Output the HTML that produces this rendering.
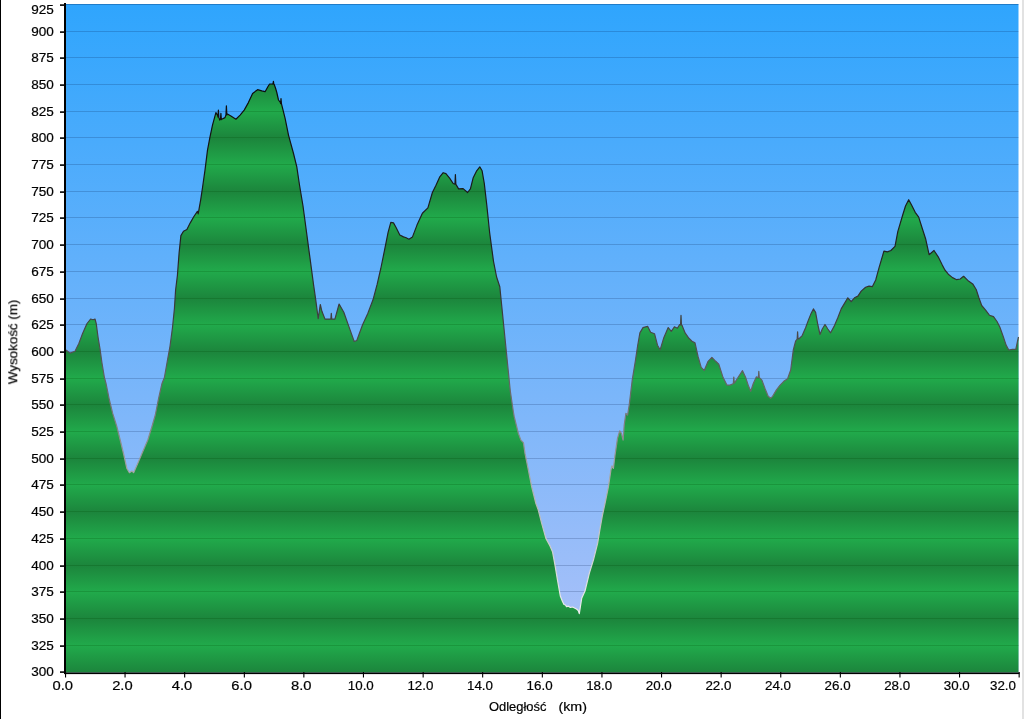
<!DOCTYPE html>
<html><head><meta charset="utf-8"><style>
html,body{margin:0;padding:0;background:#fff;}
body{width:1024px;height:719px;overflow:hidden;position:relative;}
svg{position:absolute;left:0;top:0;}
text{font-family:"Liberation Sans",sans-serif;font-size:12.3px;fill:#000;stroke:#000;stroke-width:0.2px;}
</style></head><body>
<svg width="1024" height="719" viewBox="0 0 1024 719">
<defs>
<linearGradient id="sky" x1="0" y1="4" x2="0" y2="672" gradientUnits="userSpaceOnUse">
<stop offset="0" stop-color="rgb(47,165,253)"/>
<stop offset="1" stop-color="rgb(176,194,248)"/>
</linearGradient>
<linearGradient id="grn" x1="0" y1="378.38" x2="0" y2="405.10" gradientUnits="userSpaceOnUse" spreadMethod="reflect">
<stop offset="0" stop-color="rgb(33,170,75)"/>
<stop offset="1" stop-color="rgb(28,133,60)"/>
</linearGradient>
<linearGradient id="strk" x1="0" y1="4" x2="0" y2="672" gradientUnits="userSpaceOnUse">
<stop offset="0.000" stop-color="rgb(0,0,0)"/>
<stop offset="0.368" stop-color="rgb(35,35,35)"/>
<stop offset="0.488" stop-color="rgb(70,70,70)"/>
<stop offset="0.593" stop-color="rgb(110,110,110)"/>
<stop offset="0.713" stop-color="rgb(170,170,170)"/>
<stop offset="0.892" stop-color="rgb(232,232,232)"/>
<stop offset="1.000" stop-color="rgb(255,255,255)"/>
</linearGradient>
<clipPath id="clipg"><path d="M66,672.5 L66,350.0 L66.00,350.00 L70.00,353.10 L75.00,351.25 L78.75,343.75 L82.50,333.75 L86.90,323.75 L90.60,319.00 L93.10,319.75 L95.00,319.00 L96.25,323.75 L98.10,337.50 L100.00,348.75 L101.90,362.50 L104.40,377.50 L106.00,383.40 L109.40,400.00 L112.70,413.40 L116.90,426.80 L120.20,440.00 L123.50,453.50 L126.90,468.50 L129.40,472.70 L131.90,471.00 L133.60,472.70 L137.70,463.50 L142.70,451.80 L147.80,440.00 L151.90,426.80 L155.30,415.00 L158.60,398.40 L162.00,383.40 L164.40,377.50 L167.50,360.00 L170.00,346.25 L172.50,327.50 L174.40,308.75 L175.60,290.00 L177.40,275.60 L179.10,253.00 L180.90,235.60 L183.50,231.30 L186.90,229.50 L190.40,222.60 L193.90,216.50 L197.40,211.30 L198.20,213.90 L200.80,199.10 L202.60,187.00 L205.00,170.20 L207.50,150.10 L210.00,136.80 L212.50,125.10 L215.90,112.60 L217.50,115.10 L217.95,117.15 L218.40,110.00 L218.85,117.15 L219.70,120.10 L220.45,119.56 L220.90,113.40 L221.35,119.56 L221.70,119.20 L225.00,117.60 L225.95,114.87 L226.40,105.90 L226.85,114.87 L227.00,113.70 L230.90,115.90 L235.90,119.20 L240.10,115.10 L244.20,110.10 L248.40,102.60 L252.60,93.40 L257.60,89.70 L261.80,90.90 L265.10,91.70 L268.00,86.50 L269.60,84.00 L273.00,84.00 L272.95,84.17 L273.40,81.30 L273.85,84.17 L274.20,84.50 L275.50,88.00 L276.80,92.50 L278.50,100.00 L280.50,102.60 L280.55,103.56 L281.00,98.50 L281.45,103.56 L281.80,105.10 L285.10,118.40 L288.50,135.10 L293.50,153.50 L296.80,166.80 L299.50,185.00 L303.00,206.00 L306.50,232.10 L310.00,258.20 L313.50,284.30 L315.60,298.80 L318.20,318.60 L320.30,304.50 L321.90,311.30 L325.00,319.10 L329.20,319.10 L330.85,319.10 L331.30,313.40 L331.75,319.10 L332.30,319.10 L334.90,319.10 L339.10,304.00 L343.80,312.30 L349.00,326.90 L354.20,341.50 L356.80,340.50 L362.60,324.80 L367.80,313.40 L373.00,299.80 L377.20,284.20 L380.80,268.50 L384.50,250.40 L388.10,232.30 L390.80,222.40 L393.50,222.90 L396.20,227.80 L399.80,235.00 L403.50,236.90 L406.20,237.80 L408.90,239.20 L412.50,236.90 L417.00,225.10 L422.40,213.30 L427.90,207.90 L432.40,192.50 L436.00,185.30 L439.60,177.20 L443.20,172.70 L445.90,173.60 L449.60,178.10 L453.20,183.50 L454.95,184.23 L455.40,174.50 L455.85,184.23 L455.90,184.40 L458.60,188.90 L463.10,188.60 L467.60,192.50 L470.40,188.90 L473.10,178.10 L476.70,170.80 L479.80,166.90 L482.10,170.80 L484.30,183.50 L486.80,205.20 L489.60,232.30 L493.50,261.30 L496.60,277.00 L499.80,286.70 L501.90,307.60 L504.00,328.50 L506.10,349.30 L508.20,370.20 L510.30,391.10 L513.40,412.00 L514.20,416.70 L518.40,433.40 L520.90,440.10 L523.40,442.60 L525.00,453.40 L528.40,470.10 L531.70,486.80 L535.90,503.50 L538.30,510.00 L541.70,523.40 L545.90,538.40 L550.00,545.90 L552.50,551.70 L555.00,565.10 L557.50,580.10 L560.30,596.00 L562.50,601.50 L564.00,604.50 L565.50,605.00 L566.50,606.70 L568.50,606.20 L570.40,607.50 L572.50,607.00 L575.00,608.30 L576.80,609.20 L578.20,610.50 L579.30,613.60 L580.50,606.00 L581.70,598.30 L585.00,591.00 L589.30,573.40 L593.40,560.10 L597.60,543.40 L600.10,528.40 L602.50,515.00 L605.00,503.50 L608.40,486.80 L610.90,470.10 L612.00,465.90 L613.40,468.40 L615.00,455.10 L617.50,438.40 L619.70,430.90 L621.40,433.40 L623.10,440.10 L624.20,425.00 L625.90,413.40 L627.60,415.00 L629.20,405.00 L632.30,379.60 L635.30,361.30 L637.60,346.00 L639.90,332.90 L643.00,327.60 L647.60,326.30 L650.60,332.20 L654.50,333.70 L657.50,345.20 L660.10,349.80 L663.60,338.30 L668.20,327.60 L671.30,331.40 L674.40,326.80 L677.40,328.30 L679.70,324.50 L680.55,324.95 L681.00,315.30 L681.45,324.95 L682.00,325.30 L685.10,332.90 L688.90,338.30 L692.00,341.30 L695.00,342.90 L698.10,356.70 L701.20,367.40 L704.20,370.40 L708.10,361.30 L711.90,357.40 L715.70,361.30 L718.80,364.30 L723.10,377.60 L726.90,385.10 L730.00,385.10 L733.10,383.80 L733.35,383.10 L733.80,377.00 L734.25,383.10 L735.60,381.30 L738.80,376.30 L742.50,370.70 L745.70,377.60 L748.20,385.10 L750.70,391.30 L753.20,383.80 L756.30,376.90 L758.35,377.46 L758.80,371.30 L759.25,377.46 L759.40,377.60 L761.90,380.10 L765.10,388.80 L768.20,396.30 L770.70,398.20 L772.60,396.30 L776.30,390.10 L780.10,385.10 L783.80,381.30 L787.60,378.80 L790.70,370.00 L793.30,350.00 L795.60,341.20 L797.20,339.00 L797.15,339.00 L797.60,331.90 L798.05,339.00 L798.80,339.00 L802.20,335.60 L805.60,327.80 L808.40,320.10 L811.10,313.40 L813.40,308.90 L815.60,312.30 L817.80,324.50 L820.00,334.50 L822.30,329.00 L825.00,324.50 L827.80,329.00 L830.60,332.80 L834.50,325.60 L837.80,317.80 L841.20,308.90 L844.50,303.40 L847.80,297.80 L851.20,301.70 L854.50,297.80 L857.90,296.10 L861.20,291.10 L865.60,287.20 L869.00,286.10 L872.30,286.70 L875.70,280.00 L879.00,267.90 L883.90,251.20 L887.40,251.90 L890.90,250.50 L895.00,246.30 L897.80,231.70 L902.70,215.00 L905.50,206.00 L908.70,199.70 L911.70,205.30 L915.20,212.30 L918.70,217.10 L922.20,228.20 L925.60,238.70 L929.10,254.70 L934.00,250.50 L938.20,256.80 L942.30,265.10 L944.90,270.00 L948.30,274.20 L952.50,277.60 L956.70,279.70 L960.20,279.00 L963.60,276.30 L967.80,280.40 L972.70,283.90 L976.20,289.50 L978.90,297.80 L981.70,305.50 L985.20,309.60 L989.40,315.20 L993.50,316.60 L997.00,321.50 L999.80,327.00 L1003.30,336.80 L1006.10,345.10 L1008.80,350.00 L1012.30,349.30 L1015.80,349.30 L1017.90,339.50 L1018.50,337.00 L1018.5,672.5 Z"/></clipPath>
</defs>
<rect x="0" y="0" width="1024" height="719" fill="#fff"/>
<rect x="0" y="0" width="1" height="719" fill="#000"/>
<rect x="1022" y="0" width="2" height="719" fill="#e2e2e2"/>
<rect x="66" y="4" width="952.5" height="668.5" fill="url(#sky)"/>
<g fill="rgb(0,20,70)" fill-opacity="0.19">
<rect x="66" y="31" width="952.5" height="1"/>
<rect x="66" y="57" width="952.5" height="1"/>
<rect x="66" y="84" width="952.5" height="1"/>
<rect x="66" y="111" width="952.5" height="1"/>
<rect x="66" y="137" width="952.5" height="1"/>
<rect x="66" y="164" width="952.5" height="1"/>
<rect x="66" y="191" width="952.5" height="1"/>
<rect x="66" y="217" width="952.5" height="1"/>
<rect x="66" y="244" width="952.5" height="1"/>
<rect x="66" y="271" width="952.5" height="1"/>
<rect x="66" y="298" width="952.5" height="1"/>
<rect x="66" y="324" width="952.5" height="1"/>
<rect x="66" y="351" width="952.5" height="1"/>
<rect x="66" y="378" width="952.5" height="1"/>
<rect x="66" y="404" width="952.5" height="1"/>
<rect x="66" y="431" width="952.5" height="1"/>
<rect x="66" y="458" width="952.5" height="1"/>
<rect x="66" y="484" width="952.5" height="1"/>
<rect x="66" y="511" width="952.5" height="1"/>
<rect x="66" y="538" width="952.5" height="1"/>
<rect x="66" y="565" width="952.5" height="1"/>
<rect x="66" y="591" width="952.5" height="1"/>
<rect x="66" y="618" width="952.5" height="1"/>
<rect x="66" y="645" width="952.5" height="1"/>
</g>
<rect x="66" y="4" width="952.5" height="1" fill="rgb(0,30,80)" fill-opacity="0.3"/>
<path d="M66,672.5 L66,350.0 L66.00,350.00 L70.00,353.10 L75.00,351.25 L78.75,343.75 L82.50,333.75 L86.90,323.75 L90.60,319.00 L93.10,319.75 L95.00,319.00 L96.25,323.75 L98.10,337.50 L100.00,348.75 L101.90,362.50 L104.40,377.50 L106.00,383.40 L109.40,400.00 L112.70,413.40 L116.90,426.80 L120.20,440.00 L123.50,453.50 L126.90,468.50 L129.40,472.70 L131.90,471.00 L133.60,472.70 L137.70,463.50 L142.70,451.80 L147.80,440.00 L151.90,426.80 L155.30,415.00 L158.60,398.40 L162.00,383.40 L164.40,377.50 L167.50,360.00 L170.00,346.25 L172.50,327.50 L174.40,308.75 L175.60,290.00 L177.40,275.60 L179.10,253.00 L180.90,235.60 L183.50,231.30 L186.90,229.50 L190.40,222.60 L193.90,216.50 L197.40,211.30 L198.20,213.90 L200.80,199.10 L202.60,187.00 L205.00,170.20 L207.50,150.10 L210.00,136.80 L212.50,125.10 L215.90,112.60 L217.50,115.10 L217.95,117.15 L218.40,110.00 L218.85,117.15 L219.70,120.10 L220.45,119.56 L220.90,113.40 L221.35,119.56 L221.70,119.20 L225.00,117.60 L225.95,114.87 L226.40,105.90 L226.85,114.87 L227.00,113.70 L230.90,115.90 L235.90,119.20 L240.10,115.10 L244.20,110.10 L248.40,102.60 L252.60,93.40 L257.60,89.70 L261.80,90.90 L265.10,91.70 L268.00,86.50 L269.60,84.00 L273.00,84.00 L272.95,84.17 L273.40,81.30 L273.85,84.17 L274.20,84.50 L275.50,88.00 L276.80,92.50 L278.50,100.00 L280.50,102.60 L280.55,103.56 L281.00,98.50 L281.45,103.56 L281.80,105.10 L285.10,118.40 L288.50,135.10 L293.50,153.50 L296.80,166.80 L299.50,185.00 L303.00,206.00 L306.50,232.10 L310.00,258.20 L313.50,284.30 L315.60,298.80 L318.20,318.60 L320.30,304.50 L321.90,311.30 L325.00,319.10 L329.20,319.10 L330.85,319.10 L331.30,313.40 L331.75,319.10 L332.30,319.10 L334.90,319.10 L339.10,304.00 L343.80,312.30 L349.00,326.90 L354.20,341.50 L356.80,340.50 L362.60,324.80 L367.80,313.40 L373.00,299.80 L377.20,284.20 L380.80,268.50 L384.50,250.40 L388.10,232.30 L390.80,222.40 L393.50,222.90 L396.20,227.80 L399.80,235.00 L403.50,236.90 L406.20,237.80 L408.90,239.20 L412.50,236.90 L417.00,225.10 L422.40,213.30 L427.90,207.90 L432.40,192.50 L436.00,185.30 L439.60,177.20 L443.20,172.70 L445.90,173.60 L449.60,178.10 L453.20,183.50 L454.95,184.23 L455.40,174.50 L455.85,184.23 L455.90,184.40 L458.60,188.90 L463.10,188.60 L467.60,192.50 L470.40,188.90 L473.10,178.10 L476.70,170.80 L479.80,166.90 L482.10,170.80 L484.30,183.50 L486.80,205.20 L489.60,232.30 L493.50,261.30 L496.60,277.00 L499.80,286.70 L501.90,307.60 L504.00,328.50 L506.10,349.30 L508.20,370.20 L510.30,391.10 L513.40,412.00 L514.20,416.70 L518.40,433.40 L520.90,440.10 L523.40,442.60 L525.00,453.40 L528.40,470.10 L531.70,486.80 L535.90,503.50 L538.30,510.00 L541.70,523.40 L545.90,538.40 L550.00,545.90 L552.50,551.70 L555.00,565.10 L557.50,580.10 L560.30,596.00 L562.50,601.50 L564.00,604.50 L565.50,605.00 L566.50,606.70 L568.50,606.20 L570.40,607.50 L572.50,607.00 L575.00,608.30 L576.80,609.20 L578.20,610.50 L579.30,613.60 L580.50,606.00 L581.70,598.30 L585.00,591.00 L589.30,573.40 L593.40,560.10 L597.60,543.40 L600.10,528.40 L602.50,515.00 L605.00,503.50 L608.40,486.80 L610.90,470.10 L612.00,465.90 L613.40,468.40 L615.00,455.10 L617.50,438.40 L619.70,430.90 L621.40,433.40 L623.10,440.10 L624.20,425.00 L625.90,413.40 L627.60,415.00 L629.20,405.00 L632.30,379.60 L635.30,361.30 L637.60,346.00 L639.90,332.90 L643.00,327.60 L647.60,326.30 L650.60,332.20 L654.50,333.70 L657.50,345.20 L660.10,349.80 L663.60,338.30 L668.20,327.60 L671.30,331.40 L674.40,326.80 L677.40,328.30 L679.70,324.50 L680.55,324.95 L681.00,315.30 L681.45,324.95 L682.00,325.30 L685.10,332.90 L688.90,338.30 L692.00,341.30 L695.00,342.90 L698.10,356.70 L701.20,367.40 L704.20,370.40 L708.10,361.30 L711.90,357.40 L715.70,361.30 L718.80,364.30 L723.10,377.60 L726.90,385.10 L730.00,385.10 L733.10,383.80 L733.35,383.10 L733.80,377.00 L734.25,383.10 L735.60,381.30 L738.80,376.30 L742.50,370.70 L745.70,377.60 L748.20,385.10 L750.70,391.30 L753.20,383.80 L756.30,376.90 L758.35,377.46 L758.80,371.30 L759.25,377.46 L759.40,377.60 L761.90,380.10 L765.10,388.80 L768.20,396.30 L770.70,398.20 L772.60,396.30 L776.30,390.10 L780.10,385.10 L783.80,381.30 L787.60,378.80 L790.70,370.00 L793.30,350.00 L795.60,341.20 L797.20,339.00 L797.15,339.00 L797.60,331.90 L798.05,339.00 L798.80,339.00 L802.20,335.60 L805.60,327.80 L808.40,320.10 L811.10,313.40 L813.40,308.90 L815.60,312.30 L817.80,324.50 L820.00,334.50 L822.30,329.00 L825.00,324.50 L827.80,329.00 L830.60,332.80 L834.50,325.60 L837.80,317.80 L841.20,308.90 L844.50,303.40 L847.80,297.80 L851.20,301.70 L854.50,297.80 L857.90,296.10 L861.20,291.10 L865.60,287.20 L869.00,286.10 L872.30,286.70 L875.70,280.00 L879.00,267.90 L883.90,251.20 L887.40,251.90 L890.90,250.50 L895.00,246.30 L897.80,231.70 L902.70,215.00 L905.50,206.00 L908.70,199.70 L911.70,205.30 L915.20,212.30 L918.70,217.10 L922.20,228.20 L925.60,238.70 L929.10,254.70 L934.00,250.50 L938.20,256.80 L942.30,265.10 L944.90,270.00 L948.30,274.20 L952.50,277.60 L956.70,279.70 L960.20,279.00 L963.60,276.30 L967.80,280.40 L972.70,283.90 L976.20,289.50 L978.90,297.80 L981.70,305.50 L985.20,309.60 L989.40,315.20 L993.50,316.60 L997.00,321.50 L999.80,327.00 L1003.30,336.80 L1006.10,345.10 L1008.80,350.00 L1012.30,349.30 L1015.80,349.30 L1017.90,339.50 L1018.50,337.00 L1018.5,672.5 Z" fill="url(#grn)"/>
<g fill="rgb(0,70,0)" fill-opacity="0.2" clip-path="url(#clipg)">
<rect x="66" y="31" width="952.5" height="1"/>
<rect x="66" y="57" width="952.5" height="1"/>
<rect x="66" y="84" width="952.5" height="1"/>
<rect x="66" y="111" width="952.5" height="1"/>
<rect x="66" y="137" width="952.5" height="1"/>
<rect x="66" y="164" width="952.5" height="1"/>
<rect x="66" y="191" width="952.5" height="1"/>
<rect x="66" y="217" width="952.5" height="1"/>
<rect x="66" y="244" width="952.5" height="1"/>
<rect x="66" y="271" width="952.5" height="1"/>
<rect x="66" y="298" width="952.5" height="1"/>
<rect x="66" y="324" width="952.5" height="1"/>
<rect x="66" y="351" width="952.5" height="1"/>
<rect x="66" y="378" width="952.5" height="1"/>
<rect x="66" y="404" width="952.5" height="1"/>
<rect x="66" y="431" width="952.5" height="1"/>
<rect x="66" y="458" width="952.5" height="1"/>
<rect x="66" y="484" width="952.5" height="1"/>
<rect x="66" y="511" width="952.5" height="1"/>
<rect x="66" y="538" width="952.5" height="1"/>
<rect x="66" y="565" width="952.5" height="1"/>
<rect x="66" y="591" width="952.5" height="1"/>
<rect x="66" y="618" width="952.5" height="1"/>
<rect x="66" y="645" width="952.5" height="1"/>
</g>
<path d="M66.00,350.00 L70.00,353.10 L75.00,351.25 L78.75,343.75 L82.50,333.75 L86.90,323.75 L90.60,319.00 L93.10,319.75 L95.00,319.00 L96.25,323.75 L98.10,337.50 L100.00,348.75 L101.90,362.50 L104.40,377.50 L106.00,383.40 L109.40,400.00 L112.70,413.40 L116.90,426.80 L120.20,440.00 L123.50,453.50 L126.90,468.50 L129.40,472.70 L131.90,471.00 L133.60,472.70 L137.70,463.50 L142.70,451.80 L147.80,440.00 L151.90,426.80 L155.30,415.00 L158.60,398.40 L162.00,383.40 L164.40,377.50 L167.50,360.00 L170.00,346.25 L172.50,327.50 L174.40,308.75 L175.60,290.00 L177.40,275.60 L179.10,253.00 L180.90,235.60 L183.50,231.30 L186.90,229.50 L190.40,222.60 L193.90,216.50 L197.40,211.30 L198.20,213.90 L200.80,199.10 L202.60,187.00 L205.00,170.20 L207.50,150.10 L210.00,136.80 L212.50,125.10 L215.90,112.60 L217.50,115.10 L217.95,117.15 L218.40,110.00 L218.85,117.15 L219.70,120.10 L220.45,119.56 L220.90,113.40 L221.35,119.56 L221.70,119.20 L225.00,117.60 L225.95,114.87 L226.40,105.90 L226.85,114.87 L227.00,113.70 L230.90,115.90 L235.90,119.20 L240.10,115.10 L244.20,110.10 L248.40,102.60 L252.60,93.40 L257.60,89.70 L261.80,90.90 L265.10,91.70 L268.00,86.50 L269.60,84.00 L273.00,84.00 L272.95,84.17 L273.40,81.30 L273.85,84.17 L274.20,84.50 L275.50,88.00 L276.80,92.50 L278.50,100.00 L280.50,102.60 L280.55,103.56 L281.00,98.50 L281.45,103.56 L281.80,105.10 L285.10,118.40 L288.50,135.10 L293.50,153.50 L296.80,166.80 L299.50,185.00 L303.00,206.00 L306.50,232.10 L310.00,258.20 L313.50,284.30 L315.60,298.80 L318.20,318.60 L320.30,304.50 L321.90,311.30 L325.00,319.10 L329.20,319.10 L330.85,319.10 L331.30,313.40 L331.75,319.10 L332.30,319.10 L334.90,319.10 L339.10,304.00 L343.80,312.30 L349.00,326.90 L354.20,341.50 L356.80,340.50 L362.60,324.80 L367.80,313.40 L373.00,299.80 L377.20,284.20 L380.80,268.50 L384.50,250.40 L388.10,232.30 L390.80,222.40 L393.50,222.90 L396.20,227.80 L399.80,235.00 L403.50,236.90 L406.20,237.80 L408.90,239.20 L412.50,236.90 L417.00,225.10 L422.40,213.30 L427.90,207.90 L432.40,192.50 L436.00,185.30 L439.60,177.20 L443.20,172.70 L445.90,173.60 L449.60,178.10 L453.20,183.50 L454.95,184.23 L455.40,174.50 L455.85,184.23 L455.90,184.40 L458.60,188.90 L463.10,188.60 L467.60,192.50 L470.40,188.90 L473.10,178.10 L476.70,170.80 L479.80,166.90 L482.10,170.80 L484.30,183.50 L486.80,205.20 L489.60,232.30 L493.50,261.30 L496.60,277.00 L499.80,286.70 L501.90,307.60 L504.00,328.50 L506.10,349.30 L508.20,370.20 L510.30,391.10 L513.40,412.00 L514.20,416.70 L518.40,433.40 L520.90,440.10 L523.40,442.60 L525.00,453.40 L528.40,470.10 L531.70,486.80 L535.90,503.50 L538.30,510.00 L541.70,523.40 L545.90,538.40 L550.00,545.90 L552.50,551.70 L555.00,565.10 L557.50,580.10 L560.30,596.00 L562.50,601.50 L564.00,604.50 L565.50,605.00 L566.50,606.70 L568.50,606.20 L570.40,607.50 L572.50,607.00 L575.00,608.30 L576.80,609.20 L578.20,610.50 L579.30,613.60 L580.50,606.00 L581.70,598.30 L585.00,591.00 L589.30,573.40 L593.40,560.10 L597.60,543.40 L600.10,528.40 L602.50,515.00 L605.00,503.50 L608.40,486.80 L610.90,470.10 L612.00,465.90 L613.40,468.40 L615.00,455.10 L617.50,438.40 L619.70,430.90 L621.40,433.40 L623.10,440.10 L624.20,425.00 L625.90,413.40 L627.60,415.00 L629.20,405.00 L632.30,379.60 L635.30,361.30 L637.60,346.00 L639.90,332.90 L643.00,327.60 L647.60,326.30 L650.60,332.20 L654.50,333.70 L657.50,345.20 L660.10,349.80 L663.60,338.30 L668.20,327.60 L671.30,331.40 L674.40,326.80 L677.40,328.30 L679.70,324.50 L680.55,324.95 L681.00,315.30 L681.45,324.95 L682.00,325.30 L685.10,332.90 L688.90,338.30 L692.00,341.30 L695.00,342.90 L698.10,356.70 L701.20,367.40 L704.20,370.40 L708.10,361.30 L711.90,357.40 L715.70,361.30 L718.80,364.30 L723.10,377.60 L726.90,385.10 L730.00,385.10 L733.10,383.80 L733.35,383.10 L733.80,377.00 L734.25,383.10 L735.60,381.30 L738.80,376.30 L742.50,370.70 L745.70,377.60 L748.20,385.10 L750.70,391.30 L753.20,383.80 L756.30,376.90 L758.35,377.46 L758.80,371.30 L759.25,377.46 L759.40,377.60 L761.90,380.10 L765.10,388.80 L768.20,396.30 L770.70,398.20 L772.60,396.30 L776.30,390.10 L780.10,385.10 L783.80,381.30 L787.60,378.80 L790.70,370.00 L793.30,350.00 L795.60,341.20 L797.20,339.00 L797.15,339.00 L797.60,331.90 L798.05,339.00 L798.80,339.00 L802.20,335.60 L805.60,327.80 L808.40,320.10 L811.10,313.40 L813.40,308.90 L815.60,312.30 L817.80,324.50 L820.00,334.50 L822.30,329.00 L825.00,324.50 L827.80,329.00 L830.60,332.80 L834.50,325.60 L837.80,317.80 L841.20,308.90 L844.50,303.40 L847.80,297.80 L851.20,301.70 L854.50,297.80 L857.90,296.10 L861.20,291.10 L865.60,287.20 L869.00,286.10 L872.30,286.70 L875.70,280.00 L879.00,267.90 L883.90,251.20 L887.40,251.90 L890.90,250.50 L895.00,246.30 L897.80,231.70 L902.70,215.00 L905.50,206.00 L908.70,199.70 L911.70,205.30 L915.20,212.30 L918.70,217.10 L922.20,228.20 L925.60,238.70 L929.10,254.70 L934.00,250.50 L938.20,256.80 L942.30,265.10 L944.90,270.00 L948.30,274.20 L952.50,277.60 L956.70,279.70 L960.20,279.00 L963.60,276.30 L967.80,280.40 L972.70,283.90 L976.20,289.50 L978.90,297.80 L981.70,305.50 L985.20,309.60 L989.40,315.20 L993.50,316.60 L997.00,321.50 L999.80,327.00 L1003.30,336.80 L1006.10,345.10 L1008.80,350.00 L1012.30,349.30 L1015.80,349.30 L1017.90,339.50 L1018.50,337.00" fill="none" stroke="url(#strk)" stroke-width="1.2" stroke-linejoin="round"/>
<rect x="64" y="3" width="2" height="671" fill="#000"/>
<rect x="64" y="672.5" width="955.5" height="1.6" fill="#000"/>
<rect x="60" y="4.3" width="5" height="1.6" fill="#000"/>
<rect x="60" y="31.3" width="5" height="1.6" fill="#000"/>
<rect x="60" y="57.3" width="5" height="1.6" fill="#000"/>
<rect x="60" y="84.3" width="5" height="1.6" fill="#000"/>
<rect x="60" y="111.3" width="5" height="1.6" fill="#000"/>
<rect x="60" y="137.3" width="5" height="1.6" fill="#000"/>
<rect x="60" y="164.3" width="5" height="1.6" fill="#000"/>
<rect x="60" y="191.3" width="5" height="1.6" fill="#000"/>
<rect x="60" y="217.3" width="5" height="1.6" fill="#000"/>
<rect x="60" y="244.3" width="5" height="1.6" fill="#000"/>
<rect x="60" y="271.3" width="5" height="1.6" fill="#000"/>
<rect x="60" y="298.3" width="5" height="1.6" fill="#000"/>
<rect x="60" y="324.3" width="5" height="1.6" fill="#000"/>
<rect x="60" y="351.3" width="5" height="1.6" fill="#000"/>
<rect x="60" y="378.3" width="5" height="1.6" fill="#000"/>
<rect x="60" y="404.3" width="5" height="1.6" fill="#000"/>
<rect x="60" y="431.3" width="5" height="1.6" fill="#000"/>
<rect x="60" y="458.3" width="5" height="1.6" fill="#000"/>
<rect x="60" y="484.3" width="5" height="1.6" fill="#000"/>
<rect x="60" y="511.3" width="5" height="1.6" fill="#000"/>
<rect x="60" y="538.3" width="5" height="1.6" fill="#000"/>
<rect x="60" y="565.3" width="5" height="1.6" fill="#000"/>
<rect x="60" y="591.3" width="5" height="1.6" fill="#000"/>
<rect x="60" y="618.3" width="5" height="1.6" fill="#000"/>
<rect x="60" y="645.3" width="5" height="1.6" fill="#000"/>
<rect x="60" y="671.3" width="5" height="1.6" fill="#000"/>
<rect x="65.0" y="672" width="1.1" height="5.5" fill="#000"/>
<rect x="124.5" y="672" width="1.1" height="5.5" fill="#000"/>
<rect x="184.1" y="672" width="1.1" height="5.5" fill="#000"/>
<rect x="243.8" y="672" width="1.1" height="5.5" fill="#000"/>
<rect x="303.3" y="672" width="1.1" height="5.5" fill="#000"/>
<rect x="362.9" y="672" width="1.1" height="5.5" fill="#000"/>
<rect x="422.6" y="672" width="1.1" height="5.5" fill="#000"/>
<rect x="482.1" y="672" width="1.1" height="5.5" fill="#000"/>
<rect x="541.8" y="672" width="1.1" height="5.5" fill="#000"/>
<rect x="601.4" y="672" width="1.1" height="5.5" fill="#000"/>
<rect x="661.0" y="672" width="1.1" height="5.5" fill="#000"/>
<rect x="720.6" y="672" width="1.1" height="5.5" fill="#000"/>
<rect x="780.2" y="672" width="1.1" height="5.5" fill="#000"/>
<rect x="839.8" y="672" width="1.1" height="5.5" fill="#000"/>
<rect x="899.4" y="672" width="1.1" height="5.5" fill="#000"/>
<rect x="959.0" y="672" width="1.1" height="5.5" fill="#000"/>
<rect x="1018.6" y="672" width="1.1" height="5.5" fill="#000"/>
<g opacity="0.999">
<text x="53.9" y="13.9" text-anchor="end" textLength="22.6" lengthAdjust="spacingAndGlyphs">925</text>
<text x="53.9" y="36.1" text-anchor="end" textLength="22.6" lengthAdjust="spacingAndGlyphs">900</text>
<text x="53.9" y="62.1" text-anchor="end" textLength="22.6" lengthAdjust="spacingAndGlyphs">875</text>
<text x="53.9" y="89.1" text-anchor="end" textLength="22.6" lengthAdjust="spacingAndGlyphs">850</text>
<text x="53.9" y="116.1" text-anchor="end" textLength="22.6" lengthAdjust="spacingAndGlyphs">825</text>
<text x="53.9" y="142.1" text-anchor="end" textLength="22.6" lengthAdjust="spacingAndGlyphs">800</text>
<text x="53.9" y="169.1" text-anchor="end" textLength="22.6" lengthAdjust="spacingAndGlyphs">775</text>
<text x="53.9" y="196.1" text-anchor="end" textLength="22.6" lengthAdjust="spacingAndGlyphs">750</text>
<text x="53.9" y="222.1" text-anchor="end" textLength="22.6" lengthAdjust="spacingAndGlyphs">725</text>
<text x="53.9" y="249.1" text-anchor="end" textLength="22.6" lengthAdjust="spacingAndGlyphs">700</text>
<text x="53.9" y="276.1" text-anchor="end" textLength="22.6" lengthAdjust="spacingAndGlyphs">675</text>
<text x="53.9" y="303.1" text-anchor="end" textLength="22.6" lengthAdjust="spacingAndGlyphs">650</text>
<text x="53.9" y="329.1" text-anchor="end" textLength="22.6" lengthAdjust="spacingAndGlyphs">625</text>
<text x="53.9" y="356.1" text-anchor="end" textLength="22.6" lengthAdjust="spacingAndGlyphs">600</text>
<text x="53.9" y="383.1" text-anchor="end" textLength="22.6" lengthAdjust="spacingAndGlyphs">575</text>
<text x="53.9" y="409.1" text-anchor="end" textLength="22.6" lengthAdjust="spacingAndGlyphs">550</text>
<text x="53.9" y="436.1" text-anchor="end" textLength="22.6" lengthAdjust="spacingAndGlyphs">525</text>
<text x="53.9" y="463.1" text-anchor="end" textLength="22.6" lengthAdjust="spacingAndGlyphs">500</text>
<text x="53.9" y="489.1" text-anchor="end" textLength="22.6" lengthAdjust="spacingAndGlyphs">475</text>
<text x="53.9" y="516.1" text-anchor="end" textLength="22.6" lengthAdjust="spacingAndGlyphs">450</text>
<text x="53.9" y="543.1" text-anchor="end" textLength="22.6" lengthAdjust="spacingAndGlyphs">425</text>
<text x="53.9" y="570.1" text-anchor="end" textLength="22.6" lengthAdjust="spacingAndGlyphs">400</text>
<text x="53.9" y="596.1" text-anchor="end" textLength="22.6" lengthAdjust="spacingAndGlyphs">375</text>
<text x="53.9" y="623.1" text-anchor="end" textLength="22.6" lengthAdjust="spacingAndGlyphs">350</text>
<text x="53.9" y="650.1" text-anchor="end" textLength="22.6" lengthAdjust="spacingAndGlyphs">325</text>
<text x="53.9" y="676.1" text-anchor="end" textLength="22.6" lengthAdjust="spacingAndGlyphs">300</text>
<text x="62.8" y="690.3" text-anchor="middle" textLength="20.5" lengthAdjust="spacingAndGlyphs">0.0</text>
<text x="122.4" y="690.3" text-anchor="middle" textLength="20.5" lengthAdjust="spacingAndGlyphs">2.0</text>
<text x="182.0" y="690.3" text-anchor="middle" textLength="20.5" lengthAdjust="spacingAndGlyphs">4.0</text>
<text x="241.6" y="690.3" text-anchor="middle" textLength="20.5" lengthAdjust="spacingAndGlyphs">6.0</text>
<text x="301.2" y="690.3" text-anchor="middle" textLength="20.5" lengthAdjust="spacingAndGlyphs">8.0</text>
<text x="360.8" y="690.3" text-anchor="middle" textLength="26.0" lengthAdjust="spacingAndGlyphs">10.0</text>
<text x="420.4" y="690.3" text-anchor="middle" textLength="26.0" lengthAdjust="spacingAndGlyphs">12.0</text>
<text x="480.0" y="690.3" text-anchor="middle" textLength="26.0" lengthAdjust="spacingAndGlyphs">14.0</text>
<text x="539.6" y="690.3" text-anchor="middle" textLength="26.0" lengthAdjust="spacingAndGlyphs">16.0</text>
<text x="599.2" y="690.3" text-anchor="middle" textLength="26.0" lengthAdjust="spacingAndGlyphs">18.0</text>
<text x="658.8" y="690.3" text-anchor="middle" textLength="26.0" lengthAdjust="spacingAndGlyphs">20.0</text>
<text x="718.4" y="690.3" text-anchor="middle" textLength="26.0" lengthAdjust="spacingAndGlyphs">22.0</text>
<text x="778.0" y="690.3" text-anchor="middle" textLength="26.0" lengthAdjust="spacingAndGlyphs">24.0</text>
<text x="837.6" y="690.3" text-anchor="middle" textLength="26.0" lengthAdjust="spacingAndGlyphs">26.0</text>
<text x="897.2" y="690.3" text-anchor="middle" textLength="26.0" lengthAdjust="spacingAndGlyphs">28.0</text>
<text x="956.8" y="690.3" text-anchor="middle" textLength="26.0" lengthAdjust="spacingAndGlyphs">30.0</text>
<text x="1003.0" y="690.3" text-anchor="middle" textLength="26.0" lengthAdjust="spacingAndGlyphs">32.0</text>
<text x="489" y="710.5" textLength="57.5" lengthAdjust="spacingAndGlyphs">Odległość</text>
<text x="558.5" y="710.5" textLength="28.5" lengthAdjust="spacingAndGlyphs">(km)</text>
<text transform="translate(17.3,384.2) rotate(-90)" x="0" y="0" textLength="84.5" lengthAdjust="spacingAndGlyphs">Wysokość (m)</text>
</g>
</svg>
</body></html>
